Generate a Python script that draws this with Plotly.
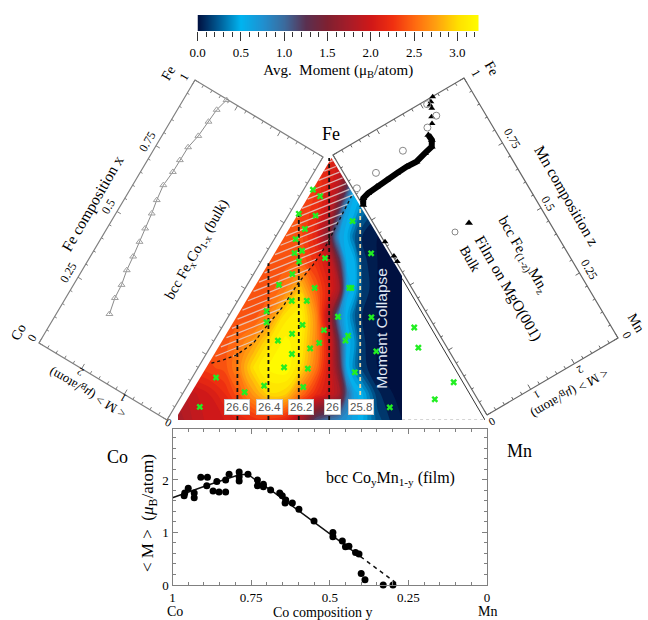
import numpy as np
import plotly.graph_objects as go

W, H = 648, 620
SERIF = "Liberation Serif"
SANS = "Liberation Sans"

# ---------- colour scale ----------
scale_values = [0, .25, .5, .75, 1, 1.25, 1.5, 1.75, 2, 2.25, 2.5, 2.75, 3, 3.25]
scale_colors = ["#001040", "#00609a", "#00b4f0", "#2090d0", "#3c6a9c", "#5a3050", "#802030",
                "#a81c28", "#d01818", "#f03010", "#ff6a10", "#ffa010", "#ffe000", "#ffff00"]
colorscale = [[v / 3.25, c] for v, c in zip(scale_values, scale_colors)]

# ---------- ternary map ----------
grid_x = [0, .05, .1, .15, .2, .25, .3, .35, .4, .45, .5, .525, .55, .575, .6, .65, .7, .73]
grid_fe = [0, .1, .2, .3, .4, .5, .6, .7, .8, .9, 1]
moment_grid = [
    [1.7, 1.85, 1.95, 2.0, 2.1, 2.2, 2.2, 2.1, 1.7, 1.1, .9, .8, .7, .6, .5, .2, .05, 0],
    [1.8, 1.9, 2.0, 2.15, 2.4, 2.7, 2.95, 2.9, 2.5, 2.15, 1.9, 1.7, 1.0, .6, .5, .1, 0, 0],
    [2.2, 2.25, 2.3, 2.35, 2.6, 3.0, 3.15, 3.2, 2.95, 2.5, 1.9, 1.4, .55, .35, .12, 0, 0, 0],
    [2.35, 2.35, 2.35, 2.35, 2.5, 2.7, 3.0, 3.15, 3.05, 2.6, 1.9, 1.2, .55, .4, .1, 0, 0, 0],
    [2.35, 2.35, 2.35, 2.35, 2.35, 2.35, 2.6, 3.0, 3.1, 2.6, 1.6, .8, .5, .25, .08, 0, 0, 0],
    [2.35, 2.35, 2.35, 2.35, 2.35, 2.35, 2.35, 2.55, 2.85, 2.4, 2.0, 1.7, .6, .5, .15, 0, 0, 0],
    [2.35, 2.35, 2.35, 2.35, 2.35, 2.35, 2.35, 2.35, 2.4, 2.2, 1.9, 1.3, .55, .5, .12, 0, 0, 0],
    [2.35, 2.35, 2.35, 2.35, 2.35, 2.35, 2.35, 2.35, 2.35, 2.1, 1.3, .65, .5, .25, .08, 0, 0, 0],
    [2.35, 2.35, 2.35, 2.35, 2.35, 2.35, 2.35, 2.35, 2.3, 2.2, 1.8, 1.2, .6, .5, .3, .1, 0, 0],
    [2.3, 2.3, 2.3, 2.3, 2.3, 2.3, 2.3, 2.3, 2.3, 2.25, 2.0, 1.8, 1.3, .6, .5, .2, 0, 0],
    [2.2, 2.2, 2.2, 2.2, 2.2, 2.2, 2.2, 2.2, 2.2, 2.2, 2.1, 2.0, 1.3, .6, .5, .2, 0, 0],
]
sample_fe = [.050, .162, .106, .131, .126, .201, .196, .252, .273, .294, .303, .329, .343, .363, .373, .415,
             .455, .455, .504, .516, .557, .618, .605, .637, .646, .690, .729, .780, .854, .787, .879, .394,
             .322, .303, .504, .504, .759, .636, .392, .262, .182, .048, .353, .276, .144, .079]
sample_mn = [.046, .043, .164, .215, .345, .245, .325, .245, .294, .313, .174, .207, .304, .224, .102, .081,
             .192, .143, .193, .071, .094, .170, .092, .061, .081, .038, .049, .058, .036, 0, 0, .324,
             .393, .394, .306, .313, .189, .311, .434, .515, .485, .666, .593, .645, .826, .797]
boundary_x = [.109, .147, .190, .245, .288, .342, .391, .440, .484, .527, .565]
boundary_fe = [.217, .229, .248, .293, .357, .433, .522, .592, .669, .764, .854]
lattice_labels = ["26.6", "26.4", "26.2", "26", "25.8"]
lattice_x = [.1935, .2946, .3935, .4924, .5935]
lattice_fe_top = [.363, .598, .80, 1.0, .815]
lattice_fe_bottom = [0, 0, 0, 0, .095]

# ---------- Fe-Co bulk ----------
feco_x = [.20, .254, .302, .352, .401, .453, .500, .553, .599, .652, .705, .750, .800, .849, .906, .953, .997]
feco_m = [2.08, 2.15, 2.17, 2.23, 2.26, 2.30, 2.34, 2.38, 2.43, 2.47, 2.44, 2.44, 2.43, 2.37, 2.34, 2.32, 2.25]

# ---------- Fe-Mn ----------
film_z = [.807, .826, .832, .836, .839, .841, .843, .841, .851, .858, .877, .897]
film_m = [.01, .08, .21, .42, .66, .90, 1.13, 1.35, 1.58, 1.76, 1.83, 1.82]
film_sparse_z = [.924, .944, .968, .988, .999, .980, .665, .610, .588]
film_sparse_m = [2.0, 2.06, 2.15, 2.20, 2.28, 2.15, .01, .02, .02]
bulk_z = [.865, .877, .895, .920, .939, .987]
bulk_m = [.07, .55, 1.23, 1.88, 2.15, 2.11]

# ---------- Co-Mn film ----------
como_y = [.963, .961, .950, .931, .931, .910, .889, .891, .871, .859, .852, .831, .831, .820, .788, .788, .788,
          .760, .730, .730, .711, .711, .688, .659, .651, .640, .642, .619, .598, .550, .490, .490, .460, .450,
          .439, .418, .407, .400, .388, .330, .299]
como_m = [1.70, 1.75, 1.84, 1.75, 1.66, 2.05, 2.05, 1.89, 1.79, 1.97, 1.77, 1.77, 2.00, 2.11, 2.15, 2.06, 1.98,
          2.11, 2.00, 1.89, 1.92, 1.87, 1.81, 1.75, 1.70, 1.62, 1.56, 1.56, 1.44, 1.22, 1.00, .92, .84, .73,
          .74, .62, .59, .22, .10, 0, 0]
fit_y = [1.0, .889, .788, .76, .73, .688, .402]
fit_m = [1.66, 1.90, 2.10, 2.11, 1.97, 1.81, .54]
fit_dash_y = [.402, .28]
fit_dash_m = [.54, 0]


# ---------- rotated panel frames (pixel layer) ----------
def left_xy(x, m):
    x, m = np.asarray(x, float), np.asarray(m, float)
    return 167 + 156 * x - 128 * m / 3, 420 - 263 * x - 77 * m / 3


def right_xy(z, m):
    z, m = np.asarray(z, float), np.asarray(m, float)
    return 487 - 154 * z + 131 * m / 3, 415 - 260 * z - 77 * m / 3


def panel_ticks(fn):
    xs, ys = [], []

    def seg(c0, m0, c1, m1):
        a, b = fn([c0, c1], [m0, m1])
        xs.extend(list(a) + [None])
        ys.extend(list(b) + [None])

    for i in range(21):
        c = i * .05
        L = .09 if i % 5 == 0 else .05
        seg(c, 0, c, L)
        seg(c, 3, c, 3 - L)
    for i in range(16):
        m = i * .2
        L = .018 if i % 5 == 0 else .01
        seg(0, m, L, m)
        seg(1, m, 1 - L, m)
    return xs, ys


fig = go.Figure()

# map
fig.add_trace(go.Contour(x=grid_x, y=grid_fe, z=moment_grid, xaxis="x", yaxis="y", colorscale=colorscale,
                         zmin=0, zmax=3.25, showscale=False, autocontour=False,
                         contours=dict(start=0, end=3.25, size=.08, coloring="fill", showlines=False),
                         line=dict(width=0), hoverinfo="skip"))
# white masks outside the triangle
fig.add_trace(go.Scatter(x=[-.01, .5, -.01, -.01], y=[0, 1, 1, 0], mode="lines", fill="toself", fillcolor="white",
                         line=dict(width=0), xaxis="x", yaxis="y", hoverinfo="skip"))
fig.add_trace(go.Scatter(x=[.5, 1.01, 1.01, .5], y=[1, 0, 1, 1], mode="lines", fill="toself", fillcolor="white",
                         line=dict(width=0), xaxis="x", yaxis="y", hoverinfo="skip"))
# hatching above the boundary curve
hx, hy = [], []
samp = np.arange(0, .62, .002)
for c in np.arange(-.30, 1.0, .027):
    line = c + .47 * samp
    inside = (line > np.interp(samp, boundary_x, boundary_fe)) & (line < 2 * samp) & (line < 2 * (1 - samp)) & (samp >= boundary_x[0]) & (samp <= .6)
    hx.extend(list(np.where(inside, samp, np.nan)) + [None])
    hy.extend(list(np.where(inside, line, np.nan)) + [None])
fig.add_trace(go.Scatter(x=hx, y=hy, mode="lines", line=dict(color="rgba(226,214,214,.8)", width=1.3),
                         connectgaps=False, xaxis="x", yaxis="y", hoverinfo="skip"))
fig.add_trace(go.Scatter(x=boundary_x, y=boundary_fe, mode="lines", line=dict(color="#111", width=1.3, dash="dot"),
                         xaxis="x", yaxis="y"))
for i, lx in enumerate(lattice_x):
    fig.add_trace(go.Scatter(x=[lx, lx], y=[lattice_fe_bottom[i], lattice_fe_top[i]], mode="lines",
                             line=dict(color="#e8d8a8" if i == 4 else "#111", width=1.8, dash="4px,3px"),
                             xaxis="x", yaxis="y"))
# edges
fig.add_trace(go.Scatter(x=[.73, 1], y=[.54, 0], mode="lines", line=dict(color="#333", width=1), xaxis="x", yaxis="y"))
fig.add_trace(go.Scatter(x=[.73, 1], y=[0, 0], mode="lines", line=dict(color="#aaa", width=1, dash="dot"), xaxis="x", yaxis="y"))
fe_arr, mn_arr = np.array(sample_fe), np.array(sample_mn)
fig.add_trace(go.Scatter(x=mn_arr + fe_arr / 2, y=fe_arr, mode="markers",
                         marker=dict(symbol="x", size=6, color="#22ee22", line=dict(width=0)),
                         xaxis="x", yaxis="y", cliponaxis=False))

# colour bar
cb_levels = scale_values
fig.add_trace(go.Heatmap(x=cb_levels, y=[0, 1], z=[cb_levels, cb_levels], colorscale=colorscale, zmin=0, zmax=3.25,
                         zsmooth="best", showscale=False, xaxis="x2", yaxis="y2", hoverinfo="skip"))

# Co-Mn panel
fig.add_trace(go.Scatter(x=fit_y, y=fit_m, mode="lines", line=dict(color="#111", width=1.5), xaxis="x3", yaxis="y3"))
fig.add_trace(go.Scatter(x=fit_dash_y, y=fit_dash_m, mode="lines", line=dict(color="#111", width=1.5, dash="4px,4px"),
                         xaxis="x3", yaxis="y3"))
fig.add_trace(go.Scatter(x=como_y, y=como_m, mode="markers", marker=dict(color="black", size=7), cliponaxis=False,
                         xaxis="x3", yaxis="y3"))

# frames (pixel layer)
for fn, col in ((left_xy, "#808080"), (right_xy, "#666666")):
    fx, fy = fn([0, 1, 1, 0, 0], [0, 0, 3, 3, 0])
    fig.add_trace(go.Scatter(x=fx, y=fy, mode="lines", line=dict(color=col, width=1.2), xaxis="x4", yaxis="y4"))
    tx, ty = panel_ticks(fn)
    fig.add_trace(go.Scatter(x=tx, y=ty, mode="lines", line=dict(color=col, width=1), xaxis="x4", yaxis="y4"))
# Fe-Co data
a, b = left_xy(feco_x, feco_m)
fig.add_trace(go.Scatter(x=a, y=b, mode="lines+markers", line=dict(color="#8a8a8a", width=1),
                         marker=dict(symbol="triangle-up-open", size=6, color="#a0a0a0", line=dict(width=1)),
                         xaxis="x4", yaxis="y4"))
# Fe-Mn data
a, b = right_xy(film_z, film_m)
fig.add_trace(go.Scatter(x=a, y=b, mode="lines+markers", line=dict(color="black", width=6),
                         marker=dict(symbol="triangle-up", size=7, color="black"), xaxis="x4", yaxis="y4"))
a, b = right_xy(film_sparse_z, film_sparse_m)
fig.add_trace(go.Scatter(x=a, y=b, mode="markers", marker=dict(symbol="triangle-up", size=6, color="black"),
                         xaxis="x4", yaxis="y4"))
a, b = right_xy(bulk_z, bulk_m)
fig.add_trace(go.Scatter(x=a, y=b, mode="markers",
                         marker=dict(symbol="circle-open", size=7, color="#888", line=dict(width=1)),
                         xaxis="x4", yaxis="y4"))
# Fe-Mn legend glyphs
fig.add_trace(go.Scatter(x=[469], y=[223], mode="markers", marker=dict(symbol="triangle-up", size=7, color="black"),
                         xaxis="x4", yaxis="y4"))
fig.add_trace(go.Scatter(x=[455], y=[232], mode="markers",
                         marker=dict(symbol="circle-open", size=6, color="#888", line=dict(width=1)),
                         xaxis="x4", yaxis="y4"))

ann = []


def txt(x, y, s, size=14, angle=0, color="black", family=SERIF, **kw):
    ann.append(dict(x=x, y=y, xref="x4", yref="y4", text=s, showarrow=False, textangle=angle,
                    font=dict(size=size, color=color, family=family), xanchor="center", yanchor="middle", **kw))


txt(331, 134, "Fe", 18)
txt(117, 457, "Co", 18)
txt(519, 451, "Mn", 18)
txt(175, 611, "Co", 14)
txt(487, 611, "Mn", 14)
txt(323, 612, "Co composition y", 14)
txt(390, 478, "bcc Co<sub>y</sub>Mn<sub>1-y</sub> (film)", 16)
txt(149, 513, "< M >  (<i>μ</i><sub>B</sub>/atom)", 17, -90)

# left panel text
for p, s in zip([(32, 338), (68, 273), (108, 207), (147, 142), (184, 77)], ["0", "0.25", "0.5", "0.75", "1"]):
    txt(p[0], p[1], s, 12, -60)
txt(168, 73, "Fe", 14, -60)
txt(18, 332, "Co", 14, -60)
txt(92, 203, "Fe composition x", 15.5, -60)
txt(197, 250, "bcc Fe<sub>x</sub>Co<sub>1-x</sub> (bulk)", 14.5, -60)
for p, s in zip([(168, 423), (123, 398), (80, 372)], ["0", "1", "2"]):
    txt(p[0], p[1], s, 11, -150)
txt(88, 393, "< M > (<i>μ</i><sub>B</sub>/atom)", 13, -150)

# right panel text
for p, s in zip([(627, 335), (589, 269), (548, 203), (512, 138), (476, 73)], ["0", "0.25", "0.5", "0.75", "1"]):
    txt(p[0], p[1], s, 12, 60)
txt(492, 68, "Fe", 14, 60)
txt(636, 322, "Mn", 14, 60)
txt(567, 195, "Mn composition z", 15.5, 60)
txt(523, 255, "bcc Fe<sub>(1-z)</sub>Mn<sub>z</sub>", 15, 60)
txt(508, 288, "Film on MgO(001)", 15.5, 60)
txt(470, 258, "Bulk", 14, 60)
for p, s in zip([(492, 422), (537, 395), (580, 370)], ["0", "1", "2"]):
    txt(p[0], p[1], s, 11, 150)
txt(570, 393, "< M > (<i>μ</i><sub>B</sub>/atom)", 13, 150)

# map labels
for s, px in zip(lattice_labels, [236.7, 269, 301, 332, 361]):
    txt(px, 407, s, 11.5, 0, "#555", SANS, bgcolor="white", bordercolor="#ccc", borderwidth=1, borderpad=1)
txt(380.7, 328, "Moment Collapse", 15.5, -90, "#dfe6f2", SANS)


def dom_x(a, b):
    return [a / W, b / W]


def dom_y(top, bot):
    return [1 - bot / H, 1 - top / H]


hidden = dict(visible=False, showgrid=False, zeroline=False, fixedrange=True)
fig.update_layout(
    width=W, height=H, margin=dict(l=0, r=0, t=0, b=0, autoexpand=False), paper_bgcolor="white", plot_bgcolor="rgba(0,0,0,0)",
    showlegend=False, annotations=ann, font=dict(family=SERIF, color="black"),
    xaxis=dict(domain=dom_x(178, 485), range=[0, 1], **hidden),
    yaxis=dict(domain=dom_y(158, 420), range=[0, 1], **hidden),
    xaxis2=dict(domain=dom_x(197.5, 479), range=[0, 3.25], anchor="y2", showgrid=False, zeroline=False,
                ticks="outside", ticklen=9, tickwidth=1, tickcolor="#333", dtick=.5, tick0=0, tickformat=".1f",
                tickfont=dict(size=13, family=SERIF), showline=False,
                minor=dict(ticks="outside", ticklen=5, dtick=.1, tickcolor="#333", tickwidth=1),
                title=dict(text="Avg.  Moment (μ<sub>B</sub>/atom)", standoff=5, font=dict(size=15, family=SERIF))),
    yaxis2=dict(domain=dom_y(15, 31), range=[0, 1], anchor="x2", **hidden),
    xaxis3=dict(domain=dom_x(172.5, 487), range=[1, 0], anchor="y3", showgrid=False, zeroline=False, showline=True,
                mirror="ticks", linecolor="#808080", linewidth=1.2, ticks="inside", ticklen=5, tickcolor="#808080",
                tickvals=[1, .75, .5, .25, 0], ticktext=["1", "0.75", "0.5", "0.25", "0"],
                tickfont=dict(size=13, family=SERIF),
                minor=dict(ticks="inside", ticklen=3, dtick=.05, tick0=0, tickcolor="#808080")),
    yaxis3=dict(domain=dom_y(429, 585), range=[0, 2.97], anchor="x3", showgrid=False, zeroline=False, showline=True,
                mirror="ticks", linecolor="#808080", linewidth=1.2, ticks="inside", ticklen=5, tickcolor="#808080",
                tickvals=[0, 1, 2], tickfont=dict(size=13, family=SERIF),
                minor=dict(ticks="inside", ticklen=3, dtick=.2, tick0=0, tickcolor="#808080")),
    xaxis4=dict(domain=[0, 1], range=[0, W], anchor="y4", **hidden),
    yaxis4=dict(domain=[0, 1], range=[H, 0], anchor="x4", **hidden),
)
fig.write_html("out.html", config=dict(displayModeBar=False),
               post_script="document.body.style.margin='0';document.documentElement.style.overflow='hidden';")
